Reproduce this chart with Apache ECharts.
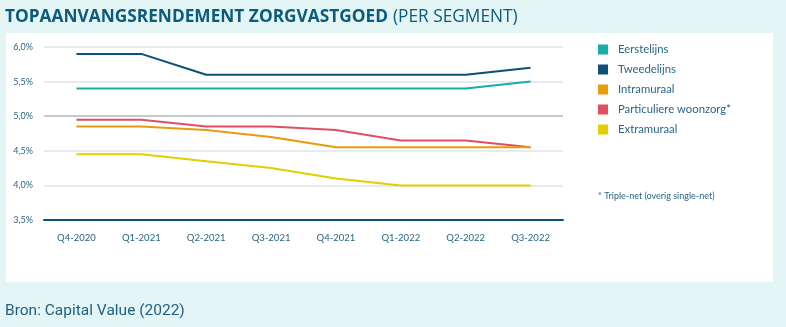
<!DOCTYPE html>
<html>
<head>
<meta charset="utf-8">
<script src="https://cdn.jsdelivr.net/npm/echarts@6/dist/echarts.min.js"></script>
<style>
html,body{margin:0;padding:0;background:#e3f5f5;}
#c{width:786px;height:327px;}
</style>
</head>
<body>
<div id="c"></div>
<script>
var categories = ['Q4-2020','Q1-2021','Q2-2021','Q3-2021','Q4-2021','Q1-2022','Q2-2022','Q3-2022'];
var eerstelijns = [5.4, 5.4, 5.4, 5.4, 5.4, 5.4, 5.4, 5.5];
var tweedelijns = [5.9, 5.9, 5.6, 5.6, 5.6, 5.6, 5.6, 5.7];
var intramuraal = [4.85, 4.85, 4.8, 4.7, 4.55, 4.55, 4.55, 4.55];
var particuliere = [4.95, 4.95, 4.85, 4.85, 4.8, 4.65, 4.65, 4.55];
var extramuraal = [4.45, 4.45, 4.35, 4.25, 4.1, 4.0, 4.0, 4.0];
var seriesNames = ['Eerstelijns','Tweedelijns','Intramuraal','Particuliere woonzorg*','Extramuraal'];
var seriesColors = ['#17aea9','#0d4f78','#e89b0c','#e04f5f','#e2cf00'];
var seriesData = [eerstelijns, tweedelijns, intramuraal, particuliere, extramuraal];

var chart = echarts.init(document.getElementById('c'), null, {renderer:'canvas'});
var txt = '#2a6585';
var option = {
  backgroundColor: '#e3f5f5',
  animation: false,
  title: {
    left: 0, top: 3,
    text: '{b|TOPAANVANGSRENDEMENT ZORGVASTGOED} {n|(PER SEGMENT)}',
    textStyle: {
      rich: {
        b: {fontFamily:'Open Sans', fontWeight:'bold', fontSize:17.3, color:'#0c5a7c'},
        n: {fontFamily:'Open Sans', fontWeight:'normal', fontSize:17.3, color:'#0c5a7c'}
      }
    }
  },
  graphic: [
    {type:'rect', z:-10, shape:{x:6, y:33, width:767, height:249}, style:{fill:'#ffffff'}},
    {type:'text', left:5, top:303, style:{text:'Bron: Capital Value (2022)', fontFamily:'Roboto, sans-serif', fontSize:15.5, fill:'#1f5f80'}},
    {type:'text', left:598, top:192, style:{text:'* Triple-net (overig single-net)', fontFamily:'Lato, sans-serif', fontSize:9, fill:txt}}
  ],
  legend: {
    orient:'vertical', left:593, top:39, itemGap:9, itemWidth:10, itemHeight:10,
    icon:'rect',
    data: seriesNames,
    textStyle:{fontFamily:'Lato, sans-serif', fontSize:11.3, color:txt, padding:[0,0,0,5]}
  },
  grid: {left:44, right:223, top:47, bottom:107, containLabel:false},
  xAxis: {
    type:'category', data:categories, boundaryGap:true,
    axisLine:{show:true, lineStyle:{color:'#0d4f78', width:2}}, axisTick:{show:false},
    axisLabel:{fontFamily:'Lato, sans-serif', fontSize:9.5, color:txt, margin:13}
  },
  yAxis: {
    type:'value', min:3.5, max:6.0, interval:0.5,
    axisLine:{show:false}, axisTick:{show:false},
    axisLabel:{fontFamily:'Lato, sans-serif', fontSize:9, color:txt, margin:11,
      formatter:function(v){return v.toFixed(1).replace('.',',')+'%';}},
    splitLine:{lineStyle:{color:['#0d4f78','#e6ebee','#e6ebee','#c4cbd0','#e6ebee','#e6ebee'], width:2}}
  },
  series: seriesData.map(function(d,i){
    return {name:seriesNames[i], type:'line', data:d, symbol:'none', lineStyle:{width:2, color:seriesColors[i]}, itemStyle:{color:seriesColors[i]}, z:10-i};
  })
};
chart.setOption(option);
</script>
</body>
</html>
